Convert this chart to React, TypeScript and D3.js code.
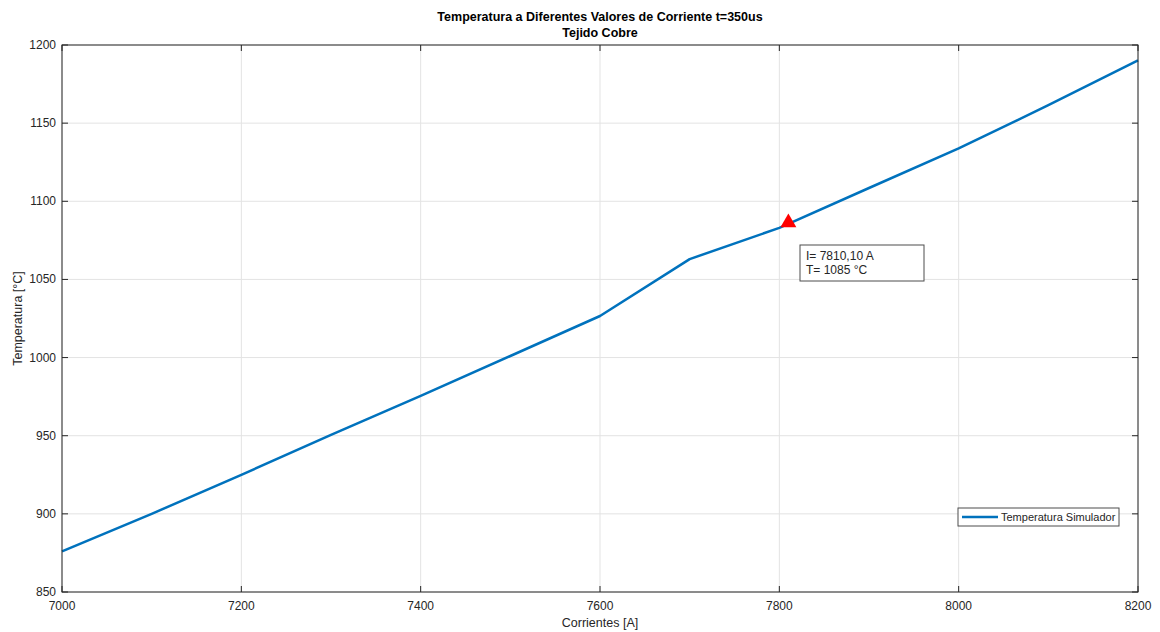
import React from "react";
import * as d3 from "d3";

const corrientes = [7000, 7100, 7200, 7300, 7400, 7500, 7600, 7700, 7800, 7900, 8000, 8100, 8200];
const temperaturas = [876, 900, 925, 950.5, 975.5, 1001, 1026.6, 1063, 1083, 1108.5, 1133.8, 1161.5, 1190.2];
const xTicks = [7000, 7200, 7400, 7600, 7800, 8000, 8200];
const yTicks = [850, 900, 950, 1000, 1050, 1100, 1150, 1200];
const marker = { x: 7810.1, y: 1085 };
const markerLabels = ["I= 7810,10 A", "T= 1085 °C"];
const titleLines = ["Temperatura a Diferentes Valores de Corriente t=350us", "Tejido Cobre"];
const seriesName = "Temperatura Simulador";

const W = 1160, H = 632;
const L = 62, R = 1138, T = 45, B = 592;
const FONT = "'Liberation Sans', Arial, Helvetica, sans-serif";
const AX = "#262626";

export default function App() {
  const x = d3.scaleLinear().domain([7000, 8200]).range([L, R]);
  const y = d3.scaleLinear().domain([850, 1200]).range([B, T]);
  const line = d3.line<number>().x((_, i) => x(corrientes[i])).y((d) => y(d));
  const mx = x(marker.x), my = y(marker.y);
  const tri = d3.symbol().type(d3.symbolTriangle).size(110)();
  const tl = 6;
  return (
    <svg width={W} height={H} style={{ position: "absolute", left: 0, top: 0, background: "#fff" }} fontFamily={FONT}>
      <rect x={0} y={0} width={W} height={H} fill="#fff" />
      {xTicks.map((t) => (
        <line key={"gx" + t} x1={x(t)} x2={x(t)} y1={T} y2={B} stroke="#e3e3e3" strokeWidth={1} />
      ))}
      {yTicks.map((t) => (
        <line key={"gy" + t} x1={L} x2={R} y1={y(t)} y2={y(t)} stroke="#e3e3e3" strokeWidth={1} />
      ))}
      <path d={line(temperaturas) || ""} fill="none" stroke="#0072BD" strokeWidth={2.5} strokeLinejoin="round" />
      <rect x={L} y={T} width={R - L} height={B - T} fill="none" stroke={AX} strokeWidth={1} />
      {xTicks.map((t) => (
        <g key={"tx" + t}>
          <line x1={x(t)} x2={x(t)} y1={B} y2={B - tl} stroke={AX} />
          <line x1={x(t)} x2={x(t)} y1={T} y2={T + tl} stroke={AX} />
          <text x={x(t)} y={610} textAnchor="middle" fontSize={12} fill={AX}>{t}</text>
        </g>
      ))}
      {yTicks.map((t) => (
        <g key={"ty" + t}>
          <line x1={L} x2={L + tl} y1={y(t)} y2={y(t)} stroke={AX} />
          <line x1={R} x2={R - tl} y1={y(t)} y2={y(t)} stroke={AX} />
          <text x={56} y={y(t) + 4} textAnchor="end" fontSize={12} fill={AX}>{t}</text>
        </g>
      ))}
      <path d={tri} transform={`translate(${mx},${my - 2})`} fill="#ff0000" />
      <rect x={800} y={245} width={124} height={36} fill="#fff" stroke="#4d4d4d" strokeWidth={1} />
      {markerLabels.map((s, i) => (
        <text key={s} x={806} y={260 + i * 14} fontSize={12} fill="#262626">{s}</text>
      ))}
      <rect x={958} y={508} width={161} height={18} fill="#fff" stroke="#4d4d4d" strokeWidth={1} />
      <line x1={962} x2={998} y1={517} y2={517} stroke="#0072BD" strokeWidth={2.5} />
      <text x={1001} y={521} fontSize={11} fill="#262626">{seriesName}</text>
      {titleLines.map((s, i) => (
        <text key={s} x={600} y={21 + i * 16} textAnchor="middle" fontSize={12.5} fontWeight="bold" fill="#000">{s}</text>
      ))}
      <text x={600} y={627} textAnchor="middle" fontSize={12.5} fill={AX}>Corrientes [A]</text>
      <text transform={`translate(22,${(T + B) / 2}) rotate(-90)`} textAnchor="middle" fontSize={12.5} fill={AX}>Temperatura [°C]</text>
    </svg>
  );
}
